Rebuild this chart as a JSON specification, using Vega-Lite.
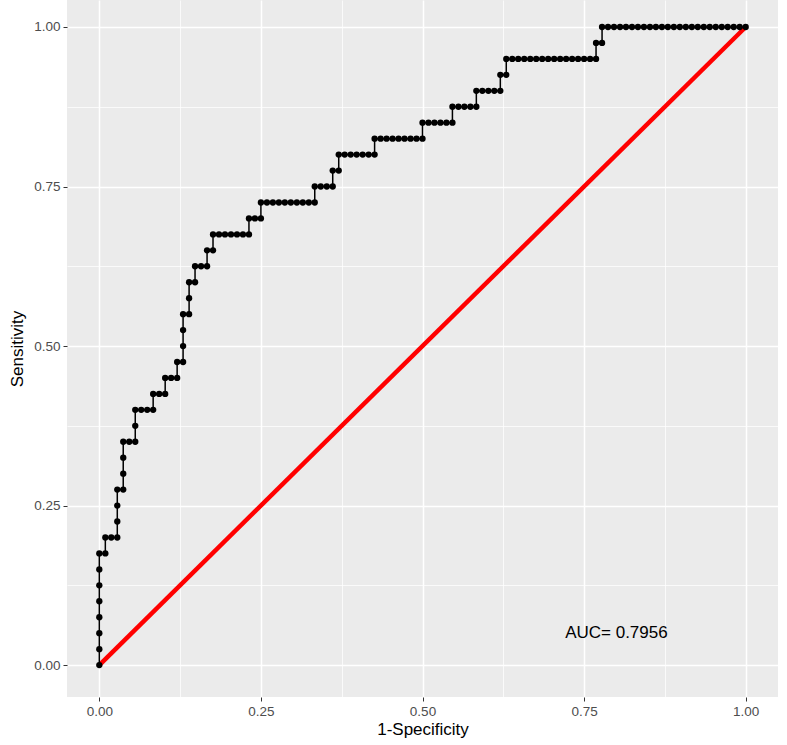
{
  "$schema": "https://vega.github.io/schema/vega-lite/v6.json",
  "width": 711,
  "height": 697,
  "autosize": {"type": "none"},
  "padding": {"left": 67, "top": 0, "right": 9, "bottom": 48},
  "background": "white",
  "config": {
    "view": {"fill": "#EBEBEB", "stroke": null},
    "font": "Liberation Sans",
    "axis": {
      "domain": false,
      "grid": true,
      "gridColor": "white",
      "gridWidth": {"condition": {"test": "datum.value % 0.25 !== 0", "value": 0.75}, "value": 1.5},
      "tickColor": "#333333",
      "tickSize": 4,
      "tickWidth": 1,
      "tickOpacity": {"condition": {"test": "datum.value % 0.25 !== 0", "value": 0}, "value": 1},
      "labelColor": "#4D4D4D",
      "labelFontSize": 13.5,
      "labelFont": "Liberation Sans",
      "labelExpr": "datum.value % 0.25 === 0 ? format(datum.value, '.2f') : ''",
      "titleFont": "Liberation Sans",
      "titleFontSize": 17,
      "titleFontWeight": "normal",
      "titleColor": "black"
    }
  },
  "datasets": {
    "diag": [{"fpr": 0, "sens": 0}, {"fpr": 1, "sens": 1}],
    "label": [{"fpr": 0.8, "sens": 0.05, "text": "AUC= 0.7956"}],
    "roc": [
      {"fpr": 0, "sens": 0},
      {"fpr": 0, "sens": 0.025},
      {"fpr": 0, "sens": 0.05},
      {"fpr": 0, "sens": 0.075},
      {"fpr": 0, "sens": 0.1},
      {"fpr": 0, "sens": 0.125},
      {"fpr": 0, "sens": 0.15},
      {"fpr": 0, "sens": 0.175},
      {"fpr": 0.0093, "sens": 0.175},
      {"fpr": 0.0093, "sens": 0.2},
      {"fpr": 0.0185, "sens": 0.2},
      {"fpr": 0.0278, "sens": 0.2},
      {"fpr": 0.0278, "sens": 0.225},
      {"fpr": 0.0278, "sens": 0.25},
      {"fpr": 0.0278, "sens": 0.275},
      {"fpr": 0.037, "sens": 0.275},
      {"fpr": 0.037, "sens": 0.3},
      {"fpr": 0.037, "sens": 0.325},
      {"fpr": 0.037, "sens": 0.35},
      {"fpr": 0.0463, "sens": 0.35},
      {"fpr": 0.0556, "sens": 0.35},
      {"fpr": 0.0556, "sens": 0.375},
      {"fpr": 0.0556, "sens": 0.4},
      {"fpr": 0.0648, "sens": 0.4},
      {"fpr": 0.0741, "sens": 0.4},
      {"fpr": 0.0833, "sens": 0.4},
      {"fpr": 0.0833, "sens": 0.425},
      {"fpr": 0.0926, "sens": 0.425},
      {"fpr": 0.1019, "sens": 0.425},
      {"fpr": 0.1019, "sens": 0.45},
      {"fpr": 0.1111, "sens": 0.45},
      {"fpr": 0.1204, "sens": 0.45},
      {"fpr": 0.1204, "sens": 0.475},
      {"fpr": 0.1296, "sens": 0.475},
      {"fpr": 0.1296, "sens": 0.5},
      {"fpr": 0.1296, "sens": 0.525},
      {"fpr": 0.1296, "sens": 0.55},
      {"fpr": 0.1389, "sens": 0.55},
      {"fpr": 0.1389, "sens": 0.575},
      {"fpr": 0.1389, "sens": 0.6},
      {"fpr": 0.1481, "sens": 0.6},
      {"fpr": 0.1481, "sens": 0.625},
      {"fpr": 0.1574, "sens": 0.625},
      {"fpr": 0.1667, "sens": 0.625},
      {"fpr": 0.1667, "sens": 0.65},
      {"fpr": 0.1759, "sens": 0.65},
      {"fpr": 0.1759, "sens": 0.675},
      {"fpr": 0.1852, "sens": 0.675},
      {"fpr": 0.1944, "sens": 0.675},
      {"fpr": 0.2037, "sens": 0.675},
      {"fpr": 0.213, "sens": 0.675},
      {"fpr": 0.2222, "sens": 0.675},
      {"fpr": 0.2315, "sens": 0.675},
      {"fpr": 0.2315, "sens": 0.7},
      {"fpr": 0.2407, "sens": 0.7},
      {"fpr": 0.25, "sens": 0.7},
      {"fpr": 0.25, "sens": 0.725},
      {"fpr": 0.2593, "sens": 0.725},
      {"fpr": 0.2685, "sens": 0.725},
      {"fpr": 0.2778, "sens": 0.725},
      {"fpr": 0.287, "sens": 0.725},
      {"fpr": 0.2963, "sens": 0.725},
      {"fpr": 0.3056, "sens": 0.725},
      {"fpr": 0.3148, "sens": 0.725},
      {"fpr": 0.3241, "sens": 0.725},
      {"fpr": 0.3333, "sens": 0.725},
      {"fpr": 0.3333, "sens": 0.75},
      {"fpr": 0.3426, "sens": 0.75},
      {"fpr": 0.3519, "sens": 0.75},
      {"fpr": 0.3611, "sens": 0.75},
      {"fpr": 0.3611, "sens": 0.775},
      {"fpr": 0.3704, "sens": 0.775},
      {"fpr": 0.3704, "sens": 0.8},
      {"fpr": 0.3796, "sens": 0.8},
      {"fpr": 0.3889, "sens": 0.8},
      {"fpr": 0.3981, "sens": 0.8},
      {"fpr": 0.4074, "sens": 0.8},
      {"fpr": 0.4167, "sens": 0.8},
      {"fpr": 0.4259, "sens": 0.8},
      {"fpr": 0.4259, "sens": 0.825},
      {"fpr": 0.4352, "sens": 0.825},
      {"fpr": 0.4444, "sens": 0.825},
      {"fpr": 0.4537, "sens": 0.825},
      {"fpr": 0.463, "sens": 0.825},
      {"fpr": 0.4722, "sens": 0.825},
      {"fpr": 0.4815, "sens": 0.825},
      {"fpr": 0.4907, "sens": 0.825},
      {"fpr": 0.5, "sens": 0.825},
      {"fpr": 0.5, "sens": 0.85},
      {"fpr": 0.5093, "sens": 0.85},
      {"fpr": 0.5185, "sens": 0.85},
      {"fpr": 0.5278, "sens": 0.85},
      {"fpr": 0.537, "sens": 0.85},
      {"fpr": 0.5463, "sens": 0.85},
      {"fpr": 0.5463, "sens": 0.875},
      {"fpr": 0.5556, "sens": 0.875},
      {"fpr": 0.5648, "sens": 0.875},
      {"fpr": 0.5741, "sens": 0.875},
      {"fpr": 0.5833, "sens": 0.875},
      {"fpr": 0.5833, "sens": 0.9},
      {"fpr": 0.5926, "sens": 0.9},
      {"fpr": 0.6019, "sens": 0.9},
      {"fpr": 0.6111, "sens": 0.9},
      {"fpr": 0.6204, "sens": 0.9},
      {"fpr": 0.6204, "sens": 0.925},
      {"fpr": 0.6296, "sens": 0.925},
      {"fpr": 0.6296, "sens": 0.95},
      {"fpr": 0.6389, "sens": 0.95},
      {"fpr": 0.6481, "sens": 0.95},
      {"fpr": 0.6574, "sens": 0.95},
      {"fpr": 0.6667, "sens": 0.95},
      {"fpr": 0.6759, "sens": 0.95},
      {"fpr": 0.6852, "sens": 0.95},
      {"fpr": 0.6944, "sens": 0.95},
      {"fpr": 0.7037, "sens": 0.95},
      {"fpr": 0.713, "sens": 0.95},
      {"fpr": 0.7222, "sens": 0.95},
      {"fpr": 0.7315, "sens": 0.95},
      {"fpr": 0.7407, "sens": 0.95},
      {"fpr": 0.75, "sens": 0.95},
      {"fpr": 0.7593, "sens": 0.95},
      {"fpr": 0.7685, "sens": 0.95},
      {"fpr": 0.7685, "sens": 0.975},
      {"fpr": 0.7778, "sens": 0.975},
      {"fpr": 0.7778, "sens": 1},
      {"fpr": 0.787, "sens": 1},
      {"fpr": 0.7963, "sens": 1},
      {"fpr": 0.8056, "sens": 1},
      {"fpr": 0.8148, "sens": 1},
      {"fpr": 0.8241, "sens": 1},
      {"fpr": 0.8333, "sens": 1},
      {"fpr": 0.8426, "sens": 1},
      {"fpr": 0.8519, "sens": 1},
      {"fpr": 0.8611, "sens": 1},
      {"fpr": 0.8704, "sens": 1},
      {"fpr": 0.8796, "sens": 1},
      {"fpr": 0.8889, "sens": 1},
      {"fpr": 0.8981, "sens": 1},
      {"fpr": 0.9074, "sens": 1},
      {"fpr": 0.9167, "sens": 1},
      {"fpr": 0.9259, "sens": 1},
      {"fpr": 0.9352, "sens": 1},
      {"fpr": 0.9444, "sens": 1},
      {"fpr": 0.9537, "sens": 1},
      {"fpr": 0.963, "sens": 1},
      {"fpr": 0.9722, "sens": 1},
      {"fpr": 0.9815, "sens": 1},
      {"fpr": 0.9907, "sens": 1},
      {"fpr": 1, "sens": 1}
    ]
  },
  "layer": [
    {
      "data": {"name": "diag"},
      "mark": {"type": "line", "color": "#FF0000", "strokeWidth": 4.5},
      "encoding": {
        "x": {
          "field": "fpr", "type": "quantitative",
          "scale": {"domain": [-0.05, 1.05], "nice": false, "zero": false},
          "axis": {"title": "1-Specificity", "values": [0, 0.125, 0.25, 0.375, 0.5, 0.625, 0.75, 0.875, 1], "labelPadding": 3, "titlePadding": 4}
        },
        "y": {
          "field": "sens", "type": "quantitative",
          "scale": {"domain": [-0.05, 1.0423], "nice": false, "zero": false},
          "axis": {"title": "Sensitivity", "values": [0, 0.125, 0.25, 0.375, 0.5, 0.625, 0.75, 0.875, 1], "labelPadding": 3, "titlePadding": 7}
        }
      }
    },
    {
      "data": {"name": "roc"},
      "mark": {"type": "line", "color": "black", "strokeWidth": 1.5},
      "encoding": {
        "x": {"field": "fpr", "type": "quantitative"},
        "y": {"field": "sens", "type": "quantitative"},
        "order": [{"field": "fpr", "type": "quantitative"}, {"field": "sens", "type": "quantitative"}]
      }
    },
    {
      "data": {"name": "roc"},
      "mark": {"type": "point", "filled": true, "color": "black", "size": 40, "opacity": 1},
      "encoding": {
        "x": {"field": "fpr", "type": "quantitative"},
        "y": {"field": "sens", "type": "quantitative"}
      }
    },
    {
      "data": {"name": "label"},
      "mark": {"type": "text", "fontSize": 17, "color": "black", "font": "Liberation Sans", "align": "center", "baseline": "middle"},
      "encoding": {
        "x": {"field": "fpr", "type": "quantitative"},
        "y": {"field": "sens", "type": "quantitative"},
        "text": {"field": "text"}
      }
    }
  ]
}
